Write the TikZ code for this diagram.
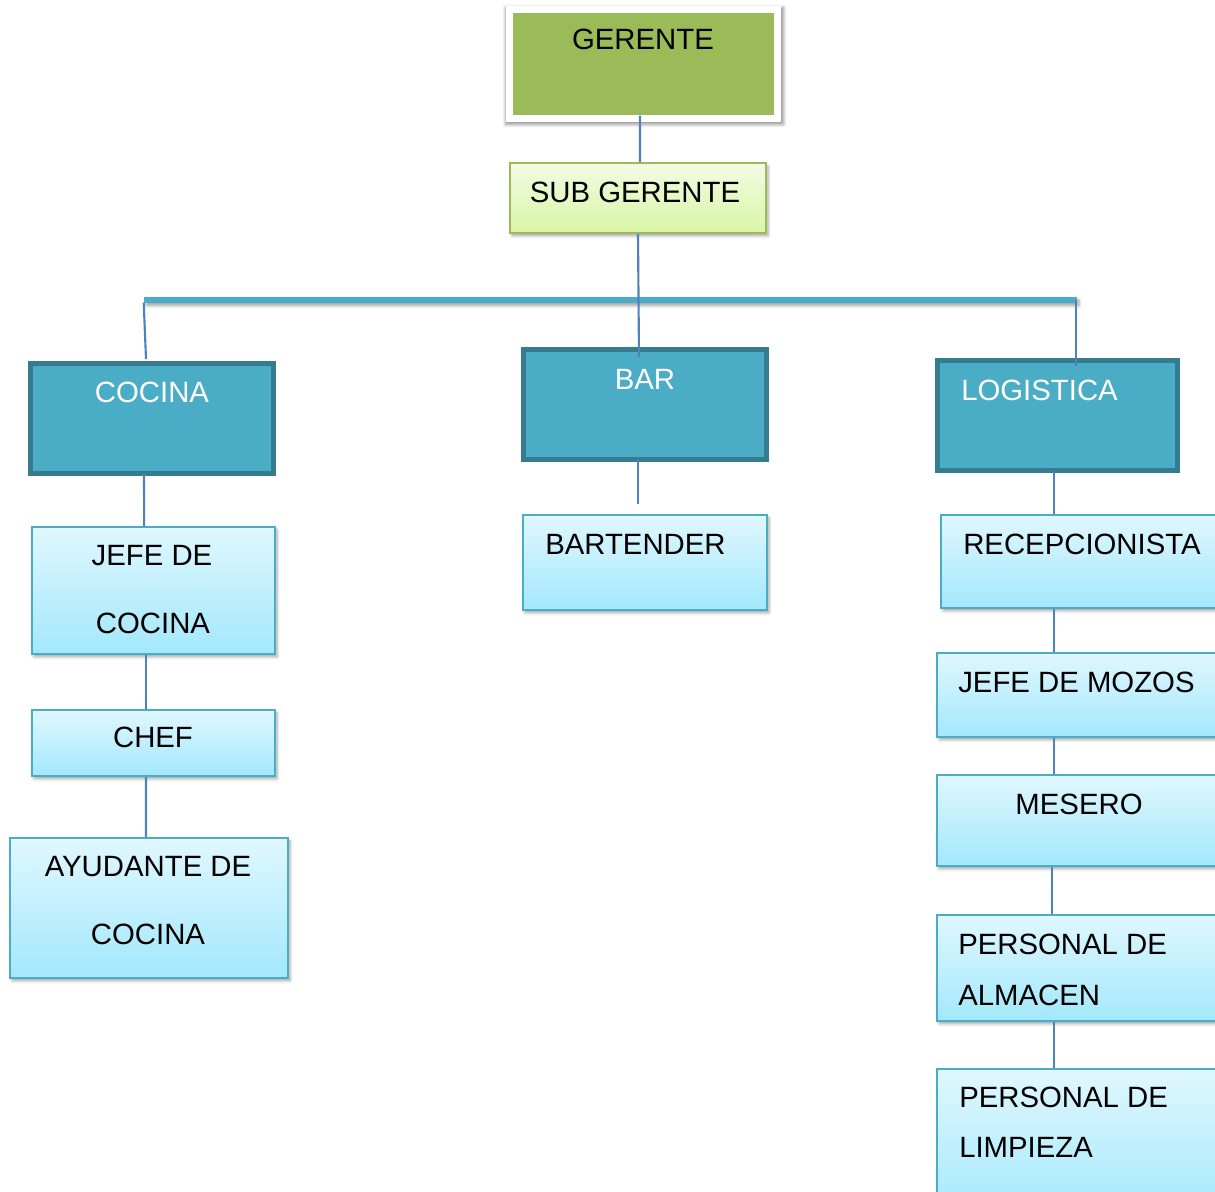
\documentclass[tikz,border=0pt]{standalone}
\usepackage{fontspec}
\setmainfont{Liberation Sans}
\usetikzlibrary{fit,calc,shadows.blur}
\definecolor{leafgreen}{HTML}{9BBB59}
\definecolor{palegreentop}{HTML}{F3FBE4}
\definecolor{palegreenbot}{HTML}{D8F5A6}
\definecolor{tealfill}{HTML}{4BACC6}
\definecolor{tealedge}{HTML}{357C8E}
\definecolor{skytop}{HTML}{E0F7FE}
\definecolor{skybot}{HTML}{A3E8FC}
\definecolor{linkblue}{HTML}{4F81BD}
\begin{document}
\begin{tikzpicture}[x=0.75pt,y=-0.75pt,
  softshadow/.style={blur shadow={shadow xshift=1.5pt,shadow yshift=-2.2pt,shadow blur steps=6,shadow opacity=35}},
  framebox/.style={inner sep=0pt,fill=white,blur shadow={shadow xshift=0.8pt,shadow yshift=-1.5pt,shadow scale=1.012,shadow blur steps=6,shadow opacity=40}},
  topbox/.style={inner sep=0pt,fill=leafgreen},
  subbox/.style={inner sep=0pt,draw=leafgreen,line width=1.5pt,top color=palegreentop,bottom color=palegreenbot,softshadow},
  deptbox/.style={inner sep=0pt,draw=tealedge,line width=3.75pt,fill=tealfill},
  rolebox/.style={inner sep=0pt,draw=tealfill,line width=1.5pt,top color=skytop,bottom color=skybot,softshadow},
  barstrip/.style={inner sep=0pt,fill=tealfill,softshadow},
  conn/.style={draw=linkblue,line width=1.6pt},
  lbl/.style={inner sep=0pt,font=\fontsize{22}{26}\selectfont},
  lblc/.style={lbl,anchor=base},
  lblw/.style={lbl,anchor=base west},
  deptlbl/.style={lblc,text=white},
]
\useasboundingbox (0,0) rectangle (1215,1192);
\clip (0,0) rectangle (1215,1192);

% top of the chart
\node[framebox,fit={(506,6) (781,122)}] (gerenteframe) {};
\node[topbox,fit={(513,13) (774,115)}] (gerente) {};
\node[lblc] (tgerente) at (643,49) {GERENTE};

\node[subbox,fit={(510,163) (766,233)}] (sub) {};
\node[lblc] (tsub) at (635,202) {SUB GERENTE};

% horizontal distribution strip
\node[barstrip,fit={(144,297) (1077,303)}] (strip) {};

% departments
\node[deptbox,fit={(30.5,363.5) (273.5,473.5)}] (cocina) {};
\node[deptlbl] (tcocina) at (152,402) {COCINA};
\node[deptbox,fit={(523.5,349.5) (766.5,459.5)}] (bar) {};
\node[deptlbl] (tbar) at (645,389) {BAR};
\node[deptbox,fit={(937.5,360.5) (1177.5,470.5)}] (logistica) {};
\node[lblw,text=white] (tlogistica) at (961,400) {LOGISTICA};

% kitchen column
\node[rolebox,fit={(32,527) (275,654)}] (jefe) {};
\node[lblc] (tjefe1) at (152,565) {JEFE DE};
\node[lblc] (tjefe2) at (153,633) {COCINA};
\node[rolebox,fit={(32,710) (275,776)}] (chef) {};
\node[lblc] (tchef) at (153,747) {CHEF};
\node[rolebox,fit={(10,838) (288,978)}] (ayudante) {};
\node[lblc] (tayud1) at (148,876) {AYUDANTE DE};
\node[lblc] (tayud2) at (148,944) {COCINA};

% bar column
\node[rolebox,fit={(523,515) (767,610)}] (bartender) {};
\node[lblw] (tbartender) at (545,554) {BARTENDER};

% logistics column
\node[rolebox,fit={(941,515) (1240,608)}] (recep) {};
\node[lblw] (trecep) at (963,554) {RECEPCIONISTA};
\node[rolebox,fit={(937,653) (1240,737)}] (mozos) {};
\node[lblw] (tmozos) at (958,692) {JEFE DE MOZOS};
\node[rolebox,fit={(937,775) (1240,866)}] (mesero) {};
\node[lblc] (tmesero) at (1079,814) {MESERO};
\node[rolebox,fit={(937,915) (1240,1021)}] (almacen) {};
\node[lblw] (talm1) at (958,954) {PERSONAL DE};
\node[lblw] (talm2) at (958,1005) {ALMACEN};
\node[rolebox,fit={(937,1069) (1240,1220)}] (limpieza) {};
\node[lblw] (tlim1) at (959,1107) {PERSONAL DE};
\node[lblw] (tlim2) at (959,1157) {LIMPIEZA};

% connector columns
\coordinate (colA) at (1054,0);
\coordinate (colB) at (1052,0);

% connectors
\draw[conn] ([xshift=-2.6pt,yshift=5pt]gerenteframe.south) -- ([xshift=1.5pt]sub.north);
\draw[conn] (sub.south) -- ([xshift=-4.5pt,yshift=-7.5pt]bar.north);
\draw[conn] ([yshift=-2pt]strip.west) -- ([xshift=-4.5pt,yshift=1.5pt]cocina.north);
\draw[conn] ([xshift=-0.75pt]strip.east) -- ($(strip.east |- logistica.north)+(-1,8)$);
\draw[conn] ([xshift=-6pt,yshift=1.5pt]cocina.south) -- ([xshift=-7pt]jefe.north);
\draw[conn] ([xshift=-5.6pt]jefe.south) -- ([xshift=-5.6pt]chef.north);
\draw[conn] ([xshift=-5.6pt]chef.south) -- ([xshift=-2.25pt]ayudante.north);
\draw[conn] ([xshift=-5.25pt,yshift=1.5pt]bar.south) -- ([xshift=-5.25pt,yshift=7.5pt]bartender.north);
\draw[conn] ([yshift=1.5pt]logistica.south -| colA) -- (recep.north -| colA);
\draw[conn] (recep.south -| colA) -- (mozos.north -| colA);
\draw[conn] (mozos.south -| colA) -- (mesero.north -| colA);
\draw[conn] (mesero.south -| colB) -- (almacen.north -| colB);
\draw[conn] (almacen.south -| colA) -- (limpieza.north -| colA);
\end{tikzpicture}
\end{document}
